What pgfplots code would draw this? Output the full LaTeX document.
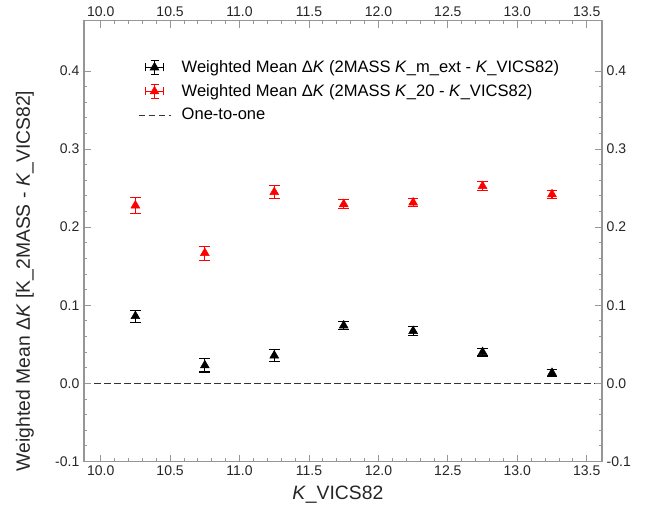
\documentclass[border=0pt]{standalone}
\usepackage{pgfplots}
\pgfplotsset{compat=1.18}
\usepackage{pgfplotstable}
\usepackage{fontspec}
\setmainfont{Liberation Sans}
\definecolor{axgray}{RGB}{150,150,150}
\definecolor{ptred}{RGB}{255,0,0}

\pgfplotstableread{
x y e
10.25 0.0860 0.0077
10.75 0.0230 0.0085
11.25 0.0356 0.0073
11.75 0.0740 0.0050
12.25 0.0670 0.0055
12.75 0.0400 0.0050
13.25 0.0133 0.0047
}\blackdata

\pgfplotstableread{
x y e
10.25 0.2277 0.0098
10.75 0.1668 0.0090
11.25 0.2448 0.0081
11.75 0.2293 0.0058
12.25 0.2315 0.0055
12.75 0.2525 0.0055
13.25 0.2420 0.0050
}\reddata

\begin{document}
\begin{tikzpicture}
\useasboundingbox (-63pt,-40.9pt) rectangle (431.25pt,346.1pt);
\pgfplotsset{
  common/.style={
    scale only axis, width=388.5pt, height=330.4pt,
    at={(0,0)}, anchor=south west,
    xmin=9.88, xmax=13.61, ymin=-0.1, ymax=0.464,
    xtick={10,10.5,11,11.5,12,12.5,13,13.5},
    ytick={-0.1,0,0.1,0.2,0.3,0.4},
    minor x tick num=4, minor y tick num=4,
    tick align=inside,
    major tick length=5pt, minor tick length=2.5pt,
    axis line style={axgray, line width=0.8pt},
    every tick/.style={axgray, line width=0.6pt},
    tick label style={font=\fontsize{10.5}{12}\selectfont, text=black!85},
    /pgf/number format/assume math mode=true,
    xticklabel style={/pgf/number format/.cd, fixed, fixed zerofill, precision=1},
    yticklabel style={/pgf/number format/.cd, fixed, fixed zerofill, precision=1},
  },
  ebleg/.style={legend image code/.code={
    \draw[#1, line width=0.8pt, solid] (5.3pt,0pt)--(18.7pt,0pt) (5.3pt,-3pt)--(5.3pt,3pt) (18.7pt,-3pt)--(18.7pt,3pt)
      (12pt,-5.3pt)--(12pt,5.3pt) (9pt,-5.3pt)--(15pt,-5.3pt) (9pt,5.3pt)--(15pt,5.3pt);
    \fill[#1] (12pt,0pt) ++(90:3.8pt) -- ++(240:6.6pt) -- ++(0:6.6pt) -- cycle;
  }},
  dashleg/.style={legend image code/.code={
    \draw[black!80, dash pattern=on 5pt off 2.5pt, line width=0.8pt] (0pt,0pt)--(24pt,0pt);
  }},
}
\begin{axis}[common,
  xticklabel pos=lower, yticklabel pos=left,
  xlabel={\textit{K}\_VICS82},
  ylabel={Weighted Mean Δ\textit{K} [K\_2MASS - \textit{K}\_VICS82]},
  label style={font=\fontsize{14.5}{17}\selectfont, text=black!85},
  xlabel style={at={(axis description cs:0.49,-0.075)}, anchor=center},
  ylabel style={at={(axis description cs:-0.114,0.41)}, anchor=center},
  legend cell align=left,
  legend style={at={(axis description cs:0.096,0.923)}, anchor=north west,
    draw=none, fill=none, font=\fontsize{12.4}{15}\selectfont, row sep=3.5pt,
    column sep=6pt},
]
\addplot[black, only marks, mark=triangle*, mark size=3.8pt, ebleg=black,
  error bars/.cd, y dir=both, y explicit,
  error bar style={line width=0.8pt, black},
  error mark options={rotate=90, mark size=4pt, line width=0.8pt, black}]
  table[x=x, y=y, y error=e] {\blackdata};
\addlegendentry{Weighted Mean Δ\textit{K} (2MASS \textit{K}\_m\_ext - \textit{K}\_VICS82)}
\addplot[ptred, only marks, mark=triangle*, mark size=3.8pt, ebleg=ptred,
  error bars/.cd, y dir=both, y explicit,
  error bar style={line width=0.8pt, ptred},
  error mark options={rotate=90, mark size=4pt, line width=0.8pt, ptred}]
  table[x=x, y=y, y error=e] {\reddata};
\addlegendentry{Weighted Mean Δ\textit{K} (2MASS \textit{K}\_20 - \textit{K}\_VICS82)}
\addplot[black!80, dash pattern=on 5pt off 2.5pt, line width=0.8pt, dashleg]
  coordinates {(9.88,0) (13.61,0)};
\addlegendentry{One-to-one}
\end{axis}
\begin{axis}[common, xticklabel pos=upper, yticklabel pos=right]
\end{axis}
\end{tikzpicture}
\end{document}
